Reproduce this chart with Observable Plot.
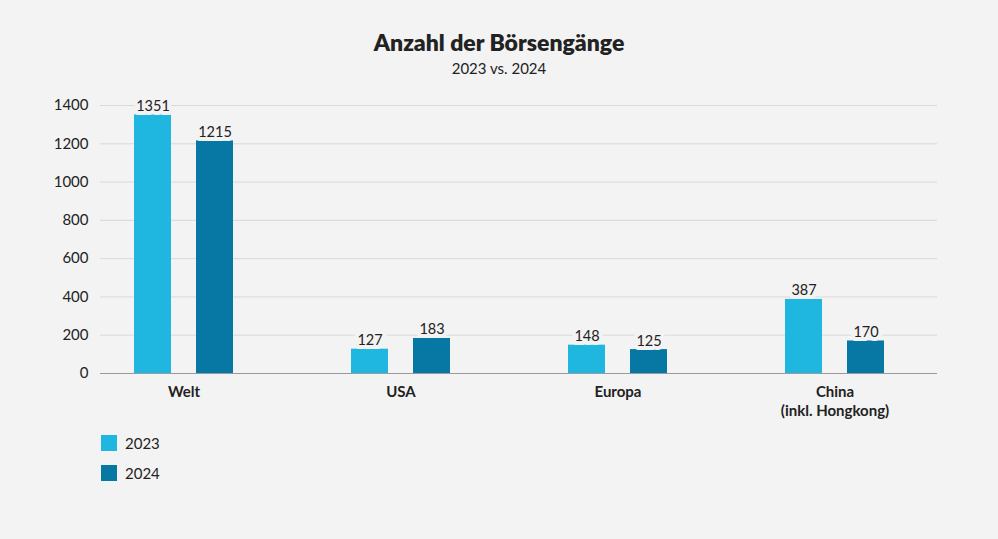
<!DOCTYPE html>
<html><head><meta charset="utf-8">
<script src="https://cdn.jsdelivr.net/npm/d3@7"></script>
<script src="https://cdn.jsdelivr.net/npm/@observablehq/plot@0.6"></script>
<style>
body{margin:0;background:#f3f3f3;font-family:Lato,"Open Sans",sans-serif;color:#222;width:998px;height:539px;position:relative;overflow:hidden}
#title{position:absolute;left:0;width:998px;top:28px;text-align:center;font-size:23px;font-weight:800;line-height:28px;color:#222}
#subtitle{position:absolute;left:0;width:998px;top:58px;text-align:center;font-size:15px;line-height:20px;color:#222}
#chart{position:absolute;left:0;top:85px}
.leg{position:absolute;left:101px;display:flex;align-items:center;font-size:15px;color:#222}
.leg span.sw{display:inline-block;width:16px;height:16px;margin-right:8px}
</style></head><body>
<div id="title">Anzahl der Börsengänge</div>
<div id="subtitle">2023 vs. 2024</div>
<div id="chart"></div>
<div id="legend"></div>
<script>
const categories = ["Welt", "USA", "Europa", "China"];
const categoryLabels = ["Welt", "USA", "Europa", "China\n(inkl. Hongkong)"];
const years = ["2023", "2024"];
const values2023 = [1351, 127, 148, 387];
const values2024 = [1215, 183, 125, 170];
const yTicks = [0, 200, 400, 600, 800, 1000, 1200, 1400];
const colors = {"2023": "#1FB7E0", "2024": "#0678A3"};

const rows2023 = categories.map((c, i) => ({cat: c, year: "2023", value: values2023[i]}));
const rows2024 = categories.map((c, i) => ({cat: c, year: "2024", value: values2024[i]}));

const barOpts = {x: "cat", y: "value", insetLeft: 90, insetRight: 90};
const txtOpts = {x: "cat", y: "value", text: d => String(d.value), lineAnchor: "bottom", dy: -4,
  fontSize: 14.5, fill: "#222", stroke: "#f3f3f3", strokeWidth: 8, paintOrder: "stroke"};

const chart = Plot.plot({
  width: 998,
  height: 340,
  marginTop: 20,
  marginBottom: 52,
  marginLeft: 100,
  marginRight: 61,
  style: {fontFamily: "Lato, 'Open Sans', sans-serif", fontSize: "14px", color: "#222", background: "transparent"},
  x: {domain: categories, range: [75, 943], padding: 0},
  y: {domain: [0, 1400]},
  marks: [
    Plot.ruleY(yTicks.filter(d => d > 0), {stroke: "#d9d9d9", strokeWidth: 1}),
    Plot.ruleY([0], {stroke: "#9a9a9a", strokeWidth: 1}),
    Plot.barY(rows2023, {...barOpts, fill: colors["2023"], dx: -31}),
    Plot.barY(rows2024, {...barOpts, fill: colors["2024"], dx: 31}),
    Plot.text(rows2023, {...txtOpts, dx: -31}),
    Plot.text(rows2024, {...txtOpts, dx: 31}),
    Plot.axisY({ticks: yTicks, tickSize: 0, tickPadding: 12, fontSize: 15, fill: "#222", label: null,
      tickFormat: d => String(d)}),
    Plot.axisX({tickSize: 0, tickPadding: 10, fontSize: 15, fontWeight: "bold", fill: "#222", label: null,
      tickFormat: d => categoryLabels[categories.indexOf(d)], lineHeight: 1.25})
  ]
});
document.getElementById("chart").appendChild(chart);

const legend = document.getElementById("legend");
years.forEach((y, i) => {
  const el = document.createElement("div");
  el.className = "leg";
  el.style.top = (434 + i * 30) + "px";
  el.innerHTML = `<span class="sw" style="background:${colors[y]}"></span><span>${y}</span>`;
  legend.appendChild(el);
});
</script>
</body></html>
